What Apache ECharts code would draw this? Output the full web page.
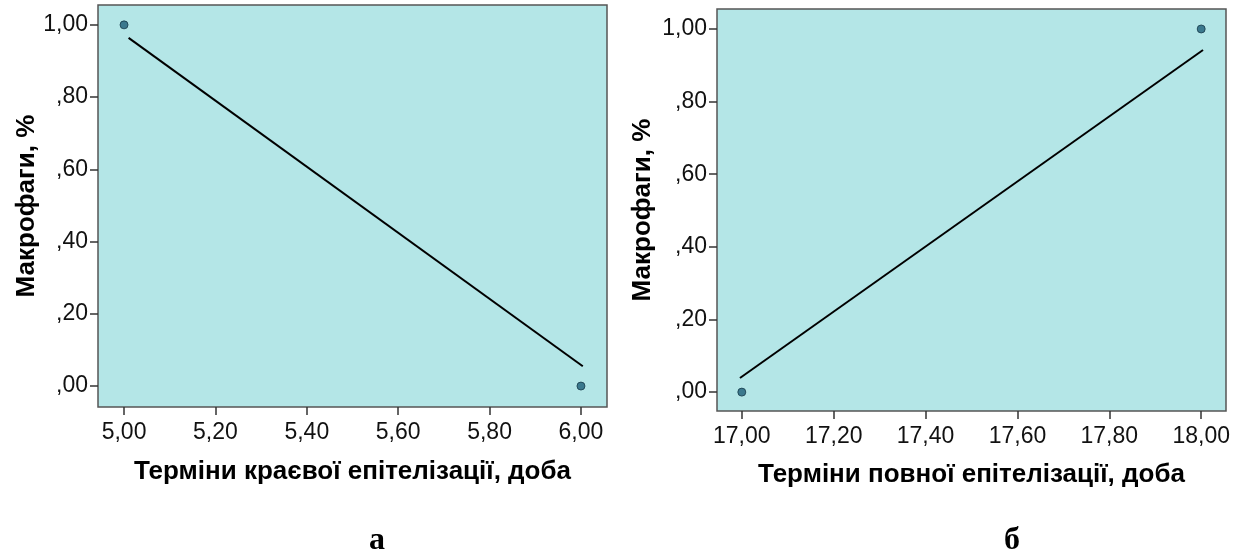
<!DOCTYPE html>
<html>
<head>
<meta charset="utf-8">
<script src="https://cdn.jsdelivr.net/npm/echarts@6/dist/echarts.min.js"></script>
<style>
  html, body { margin: 0; padding: 0; background: #fff; }
  #main { width: 1242px; height: 560px; }
</style>
</head>
<body>
<div id="main"></div>
<script>
// chart a
var xTicksA = [5.0, 5.2, 5.4, 5.6, 5.8, 6.0];
var pointsA = [[5, 1], [6, 0]];
var fitA = [[5.01, 0.964], [6.004, 0.055]];
// chart б
var xTicksB = [17.0, 17.2, 17.4, 17.6, 17.8, 18.0];
var pointsB = [[17, 0], [18, 1]];
var fitB = [[16.996, 0.039], [18.004, 0.942]];
// shared
var yTicks = [0, 0.2, 0.4, 0.6, 0.8, 1.0];
var yName = 'Макрофаги, %';
var xNameA = 'Терміни краєвої епітелізації, доба';
var xNameB = 'Терміни повної епітелізації, доба';

function fmt(v) {
	var s = v.toFixed(2).replace('.', ',');
	if (s.charAt(0) === '0') s = s.substring(1);
	return s;
}

var font = 'Liberation Sans, Arial, sans-serif';

function xAxis(idx, ticks, min, max, name, gap) {
	return {
		type : 'value',
		gridIndex : idx,
		min : min,
		max : max,
		name : name,
		nameLocation : 'middle',
		nameGap : gap,
		nameTextStyle : { fontFamily : font, fontSize : 26, fontWeight : 'bold', color : '#000' },
		axisLine : { show : false, onZero : false },
		splitLine : { show : false },
		axisTick : { show : true, length : 8, customValues : ticks, lineStyle : { color : '#333', width : 1.5 } },
		axisLabel : { customValues : ticks, formatter : fmt, fontFamily : font, fontSize : 23, color : '#111', margin : 14 }
	};
}

function yAxis(idx, min, max, gap) {
	return {
		type : 'value',
		gridIndex : idx,
		min : min,
		max : max,
		name : yName,
		nameLocation : 'middle',
		nameGap : gap,
		nameRotate : 90,
		nameTextStyle : { fontFamily : font, fontSize : 26, fontWeight : 'bold', color : '#000' },
		axisLine : { show : false, onZero : false },
		splitLine : { show : false },
		axisTick : { show : true, length : 8, customValues : yTicks, lineStyle : { color : '#333', width : 1.5 } },
		axisLabel : { customValues : yTicks, formatter : fmt, fontFamily : font, fontSize : 23, color : '#111', margin : 10 }
	};
}

var pointStyle = { color : '#1d5e78', borderColor : '#173a48', borderWidth : 1 };

var myChart = echarts.init(document.getElementById('main'));
option = {
	animation : false,
	title : [ {
		text : 'а', left : 364, top : 520,
		textStyle : { fontFamily : 'Liberation Serif, Times New Roman, serif', fontSize : 32, fontWeight : 'bold', color : '#000' }
	}, {
		text : 'б', left : 999, top : 520,
		textStyle : { fontFamily : 'Liberation Serif, Times New Roman, serif', fontSize : 32, fontWeight : 'bold', color : '#000' }
	} ],
	grid : [ {
		left : 98, top : 5, width : 509, height : 402,
		show : true, backgroundColor : '#b4e6e7', borderColor : '#555', borderWidth : 1.5
	}, {
		left : 717, top : 9, width : 509, height : 402,
		show : true, backgroundColor : '#b4e6e7', borderColor : '#555', borderWidth : 1.5
	} ],
	xAxis : [
		xAxis(0, xTicksA, 4.943, 6.057, xNameA, 52),
		xAxis(1, xTicksB, 16.946, 18.054, xNameB, 51)
	],
	yAxis : [
		yAxis(0, -0.058, 1.055, 57),
		yAxis(1, -0.052, 1.055, 61)
	],
	series : [ {
		type : 'line', xAxisIndex : 0, yAxisIndex : 0, data : fitA,
		symbol : 'none', lineStyle : { color : '#000', width : 2 }
	}, {
		type : 'scatter', xAxisIndex : 0, yAxisIndex : 0, data : pointsA,
		symbolSize : 8, itemStyle : pointStyle
	}, {
		type : 'line', xAxisIndex : 1, yAxisIndex : 1, data : fitB,
		symbol : 'none', lineStyle : { color : '#000', width : 2 }
	}, {
		type : 'scatter', xAxisIndex : 1, yAxisIndex : 1, data : pointsB,
		symbolSize : 8, itemStyle : pointStyle
	} ]
};
myChart.setOption(option);
</script>
</body>
</html>
